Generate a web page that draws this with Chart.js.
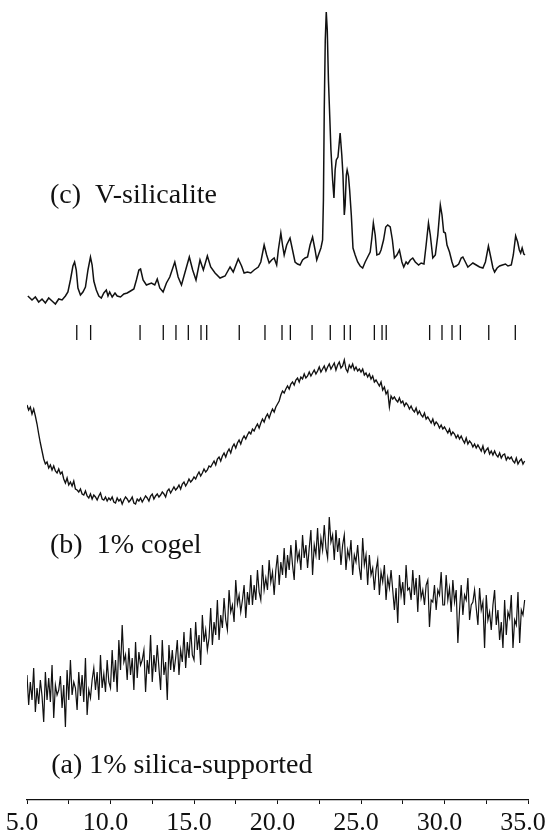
<!DOCTYPE html>
<html>
<head>
<meta charset="utf-8">
<script src="https://cdn.jsdelivr.net/npm/chart.js@4.4.1/dist/chart.umd.min.js"></script>
<style>
  html, body { margin: 0; padding: 0; background: #fff; }
  #wrap { width: 547px; height: 835px; }
</style>
</head>
<body>
<div id="wrap"><canvas id="c" width="547" height="835"></canvas></div>
<script>
// ---- Data (2-theta in degrees, intensity in arbitrary stacked units) ----
const traceC_2theta = [5.05,5.3,5.5,5.7,5.9,6.1,6.3,6.5,6.7,6.9,7.1,7.3,7.45,7.6,7.75,7.85,7.95,8.05,8.2,8.35,8.5,8.65,8.8,8.9,9.0,9.15,9.3,9.45,9.6,9.75,9.85,9.95,10.1,10.27,10.4,10.6,10.8,11.0,11.2,11.4,11.55,11.7,11.8,11.95,12.15,12.45,12.65,12.8,12.95,13.15,13.35,13.55,13.85,14.05,14.25,14.45,14.72,14.92,15.12,15.36,15.56,15.8,16.0,16.26,16.56,16.86,17.16,17.35,17.65,17.85,18.0,18.2,18.4,18.6,18.85,19.0,19.2,19.35,19.5,19.65,19.8,19.95,20.05,20.2,20.3,20.4,20.55,20.75,20.9,21.05,21.2,21.35,21.5,21.65,21.8,21.95,22.1,22.25,22.35,22.45,22.6,22.7,22.75,22.8,22.86,22.92,22.98,23.05,23.13,23.2,23.3,23.38,23.45,23.52,23.62,23.75,23.85,23.92,24.0,24.05,24.12,24.17,24.25,24.32,24.42,24.52,24.65,24.8,24.95,25.1,25.25,25.4,25.55,25.65,25.74,25.85,25.95,26.1,26.2,26.35,26.48,26.6,26.75,26.88,27.0,27.15,27.3,27.45,27.56,27.7,27.8,27.95,28.1,28.25,28.45,28.6,28.77,28.9,29.04,29.15,29.3,29.45,29.6,29.75,29.85,29.95,30.05,30.15,30.3,30.45,30.55,30.7,30.85,31.0,31.1,31.25,31.4,31.55,31.7,31.9,32.1,32.3,32.45,32.63,32.78,32.9,33.0,33.15,33.3,33.47,33.65,33.8,34.0,34.12,34.26,34.38,34.48,34.56,34.65,34.75,34.82];
const traceC_intensity = [504,500,503,498,501,497,502,499,496,501,500,504,508,520,534,538,530,512,505,508,513,530,543,535,519,510,504,502,507,510,504,508,503,507,504,503,506,507,509,511,520,530,531,520,515,517,515,521,512,508,517,523,538,523,515,527,543,530,520,540,530,544,533,527,522,524,533,528,541,534,527,528,527,530,533,538,555,545,537,540,542,535,550,567,555,545,555,562,550,538,536,535,540,542,543,555,563,550,540,545,552,560,600,690,760,788,770,720,683,650,620,602,630,640,643,667,645,625,585,595,625,630,624,610,585,552,545,538,534,532,538,543,548,562,577,565,545,546,550,560,573,575,573,560,542,545,550,538,533,538,536,540,542,538,535,537,536,555,577,565,542,545,565,595,585,568,567,555,548,538,533,534,536,542,543,538,533,535,537,535,533,532,538,554,542,532,528,532,534,535,536,534,535,545,564,558,550,547,552,546,545];

// scan grid of traces (a) and (b), 0.1 degree steps
const scan_2theta = [
5.0,5.1,5.2,5.3,5.4,5.5,5.6,5.7,5.8,5.9,
6.0,6.1,6.2,6.3,6.4,6.5,6.6,6.7,6.8,6.9,
7.0,7.1,7.2,7.3,7.4,7.5,7.6,7.7,7.8,7.9,
8.0,8.1,8.2,8.3,8.4,8.5,8.6,8.7,8.8,8.9,
9.0,9.1,9.2,9.3,9.4,9.5,9.6,9.7,9.8,9.9,
10.0,10.1,10.2,10.3,10.4,10.5,10.6,10.7,10.8,10.9,
11.0,11.1,11.2,11.3,11.4,11.5,11.6,11.7,11.8,11.9,
12.0,12.1,12.2,12.3,12.4,12.5,12.6,12.7,12.8,12.9,
13.0,13.1,13.2,13.3,13.4,13.5,13.6,13.7,13.8,13.9,
14.0,14.1,14.2,14.3,14.4,14.5,14.6,14.7,14.8,14.9,
15.0,15.1,15.2,15.3,15.4,15.5,15.6,15.7,15.8,15.9,
16.0,16.1,16.2,16.3,16.4,16.5,16.6,16.7,16.8,16.9,
17.0,17.1,17.2,17.3,17.4,17.5,17.6,17.7,17.8,17.9,
18.0,18.1,18.2,18.3,18.4,18.5,18.6,18.7,18.8,18.9,
19.0,19.1,19.2,19.3,19.4,19.5,19.6,19.7,19.8,19.9,
20.0,20.1,20.2,20.3,20.4,20.5,20.6,20.7,20.8,20.9,
21.0,21.1,21.2,21.3,21.4,21.5,21.6,21.7,21.8,21.9,
22.0,22.1,22.2,22.3,22.4,22.5,22.6,22.7,22.8,22.9,
23.0,23.1,23.2,23.3,23.4,23.5,23.6,23.7,23.8,23.9,
24.0,24.1,24.2,24.3,24.4,24.5,24.6,24.7,24.8,24.9,
25.0,25.1,25.2,25.3,25.4,25.5,25.6,25.7,25.8,25.9,
26.0,26.1,26.2,26.3,26.4,26.5,26.6,26.7,26.8,26.9,
27.0,27.1,27.2,27.3,27.4,27.5,27.6,27.7,27.8,27.9,
28.0,28.1,28.2,28.3,28.4,28.5,28.6,28.7,28.8,28.9,
29.0,29.1,29.2,29.3,29.4,29.5,29.6,29.7,29.8,29.9,
30.0,30.1,30.2,30.3,30.4,30.5,30.6,30.7,30.8,30.9,
31.0,31.1,31.2,31.3,31.4,31.5,31.6,31.7,31.8,31.9,
32.0,32.1,32.2,32.3,32.4,32.5,32.6,32.7,32.8,32.9,
33.0,33.1,33.2,33.3,33.4,33.5,33.6,33.7,33.8,33.9,
34.0,34.1,34.2,34.3,34.4,34.5,34.6,34.7,34.8];

const traceB_intensity = [
395,390,393,386,391,384,376,366,357,349,
341,336,338,332,335,330,334,329,327,331,
326,328,321,317,322,315,318,314,319,311,
310,308,311,306,305,309,304,302,306,301,
305,303,300,304,307,301,300,303,299,302,
300,303,298,297,302,299,301,296,300,303,
301,298,300,303,297,296,301,299,302,298,
301,304,302,299,304,306,301,304,306,303,
305,308,306,303,309,311,307,310,313,310,
312,315,311,316,318,314,317,321,318,320,
323,321,325,328,324,327,331,328,330,334,
333,336,339,335,341,343,339,344,347,343,
348,351,347,353,356,352,357,360,356,361,
364,361,365,368,366,371,369,373,376,372,
377,381,378,383,386,382,387,391,388,393,
396,399,405,409,407,411,414,411,416,418,
415,420,422,418,423,421,426,422,424,428,
424,427,430,426,429,433,428,431,434,429,
433,436,431,434,437,430,435,438,432,434,
440,431,428,435,432,436,430,433,429,431,
428,431,425,427,423,426,421,424,418,420,
417,414,418,410,413,406,409,393,404,401,
403,400,398,402,397,399,394,397,395,391,
394,390,388,392,386,389,385,383,387,381,
383,380,377,381,375,378,376,372,375,371,
373,370,367,371,365,368,366,362,365,361,
364,360,357,362,356,359,357,353,356,352,
355,352,349,354,347,350,352,346,349,345,
349,345,343,347,342,345,346,340,343,341,
343,339,337,342,336,339,341,336,339];

const traceA_intensity = [
125,95,118,100,132,88,112,96,120,104,
78,128,100,122,98,135,82,115,105,110,
124,92,115,73,130,100,140,105,118,112,
90,128,104,125,98,142,85,110,102,120,
132,110,128,100,145,112,126,108,140,118,
112,150,118,140,108,160,130,175,138,145,
120,152,125,142,110,158,122,148,135,140,
150,108,140,126,165,118,145,128,155,132,
110,160,125,138,100,155,130,150,128,142,
160,125,150,138,168,132,158,142,172,145,
140,178,150,165,135,185,158,170,150,162,
192,155,178,165,200,160,185,172,202,180,
170,210,188,195,178,220,196,205,188,200,
215,182,208,195,225,195,215,200,230,208,
200,235,210,222,210,240,218,228,205,230,
245,215,238,225,252,222,245,230,255,235,
220,260,240,248,230,265,242,255,232,252,
270,225,255,245,272,240,262,250,275,252,
242,283,258,265,240,270,248,262,235,255,
265,230,250,242,260,225,245,238,255,232,
220,262,235,245,215,245,225,232,210,230,
240,205,228,218,235,200,222,212,230,210,
190,212,177,225,205,218,195,235,210,212,
200,230,205,222,188,225,202,210,195,215,
220,173,200,198,215,190,210,205,228,195,
195,225,200,212,188,220,198,210,157,190,
215,185,205,200,222,180,195,198,210,192,
175,212,190,198,152,205,180,188,170,195,
210,175,190,160,178,152,200,165,188,182,
205,152,180,175,208,157,190,185,200];

// reference reflection positions (stick pattern)
const stickPositions = [7.98,8.81,11.77,13.16,13.92,14.66,15.42,15.76,17.71,19.25,20.27,20.77,22.07,23.16,24.0,24.36,25.8,26.26,26.51,29.11,29.85,30.45,30.95,32.65,34.24];
const stickTop = 475;
const stickBottom = 460;

// axis
const xMin = 5, xMax = 35, xStep = 2.5;
const xLabelEvery = 5;

// trace labels
const labelTexts = ['(c)  V-silicalite', '(b)  1% cogel', '(a) 1% silica-supported'];
const labelX = [6.38, 6.38, 6.45];
const labelY = [597, 247, 27];

// ---- build ----
function pairs(xs, ys) { return xs.map((x, i) => ({ x: x, y: ys[i] })); }
const stickData = [];
stickPositions.forEach(p => {
  stickData.push({ x: p, y: stickTop });
  stickData.push({ x: p, y: stickBottom });
  stickData.push({ x: p, y: null });
});

const lineStyle = { borderColor: '#111', borderWidth: 1.35, pointRadius: 0, tension: 0, fill: false };

const labelPlugin = {
  id: 'traceLabels',
  afterDatasetsDraw(chart) {
    const ctx = chart.ctx;
    const xs = chart.scales.x, ys = chart.scales.y;
    ctx.save();
    ctx.fillStyle = '#111';
    ctx.font = '28px "Liberation Serif", "Times New Roman", serif';
    ctx.textBaseline = 'alphabetic';
    ctx.textAlign = 'left';
    labelTexts.forEach((t, i) => {
      ctx.fillText(t, xs.getPixelForValue(labelX[i]), ys.getPixelForValue(labelY[i]));
    });
    ctx.restore();
  }
};

new Chart(document.getElementById('c'), {
  type: 'line',
  data: {
    datasets: [
      Object.assign({ label: '(c) V-silicalite', data: pairs(traceC_2theta, traceC_intensity) }, lineStyle, { borderWidth: 1.5 }),
      Object.assign({ label: 'reflections', data: stickData, spanGaps: false }, lineStyle, { borderWidth: 1.3 }),
      Object.assign({ label: '(b) 1% cogel', data: pairs(scan_2theta, traceB_intensity) }, lineStyle),
      Object.assign({ label: '(a) 1% silica-supported', data: pairs(scan_2theta, traceA_intensity) }, lineStyle, { borderWidth: 1.2 })
    ]
  },
  options: {
    responsive: false,
    animation: false,
    devicePixelRatio: 1,
    layout: { padding: { left: 27, right: 19, top: 0, bottom: 0 } },
    plugins: { legend: { display: false }, tooltip: { enabled: false }, title: { display: false } },
    scales: {
      x: {
        type: 'linear',
        min: xMin, max: xMax,
        afterFit(scale) { scale.paddingLeft = 0; scale.paddingRight = 0; scale.height = 35; },
        ticks: {
          stepSize: xStep,
          autoSkip: false,
          maxRotation: 0,
          color: '#111',
          padding: 6,
          labelOffset: -5,
          font: { family: '"Liberation Serif", "Times New Roman", serif', size: 26, lineHeight: 1.0 },
          callback: (v) => (Math.abs(v % xLabelEvery) < 1e-9 ? v.toFixed(1) : '')
        },
        grid: { drawOnChartArea: false, drawTicks: true, tickLength: 4, color: '#111', lineWidth: 1 },
        border: { display: true, color: '#111', width: 1.3 }
      },
      y: { display: false, min: 0, max: 800 }
    }
  },
  plugins: [labelPlugin]
});
</script>
</body>
</html>
